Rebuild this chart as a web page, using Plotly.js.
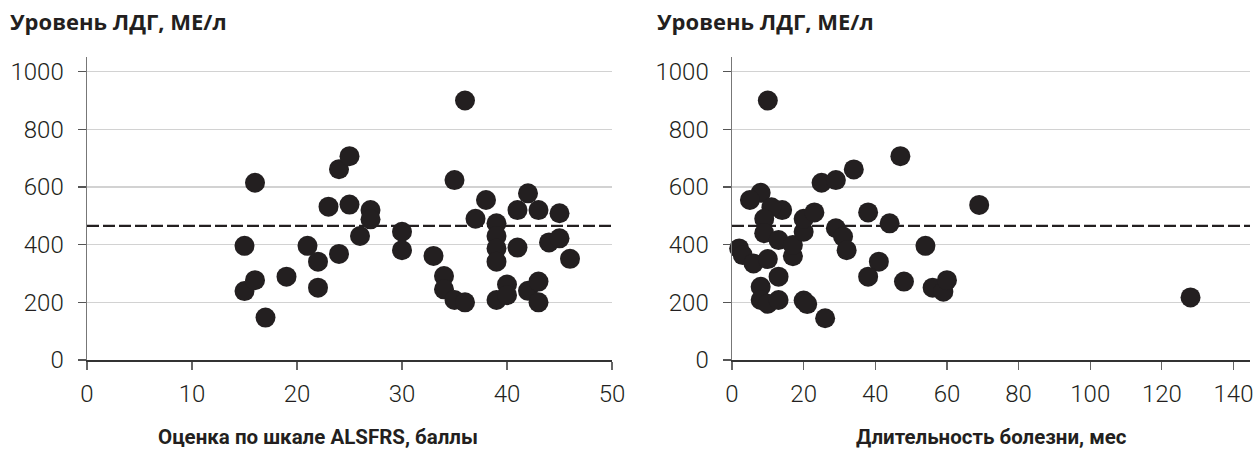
<!DOCTYPE html>
<html><head><meta charset="utf-8">
<script src="https://cdn.plot.ly/plotly-3.0.1.min.js"></script>
<style>html,body{margin:0;padding:0;background:#fff}</style>
</head><body><div id="chart" style="width:1256px;height:452px"></div>
<script>
// Left panel: ALSFRS score vs LDH
const alsfrsScore = [15,15,16,16,17,19,21,22,22,23,24,24,25,25,26,27,27,30,30,33,34,34,35,35,36,36,37,38,39,39,39,39,39,40,40,41,41,42,42,43,43,43,44,45,45,46];
const ldhLeft =     [396,239,615,277,147,289,396,341,251,532,662,368,707,539,430,520,488,445,381,361,291,245,624,208,900,200,490,555,474,430,387,341,208,262,225,520,390,578,240,520,272,200,408,509,422,351];

// Right panel: disease duration vs LDH
const durationMonths = [10,47,34,25,29,8,5,14,11,9,9,13,2,3,6,10,17,17,20,20,23,29,31,32,38,44,41,38,48,54,56,59,60,69,128,8,13,8,10,13,20,21,26];
const ldhRight =       [900,707,661,615,624,580,555,520,530,490,440,416,387,364,335,350,360,399,445,490,512,457,428,381,512,474,341,289,272,396,251,237,277,538,217,254,289,208,195,208,206,194,145];

const refLevel = 465;
const yTicks = [0,200,400,600,800,1000];
const xTicksLeft = [0,10,20,30,40,50];
const xTicksRight = [0,20,40,60,80,100,120,140];
const yTitle = 'Уровень ЛДГ, МЕ/л';
const xTitleLeft = 'Оценка по шкале ALSFRS, баллы';
const xTitleRight = 'Длительность болезни, мес';

const W = 1256, H = 452;
const ink = '#231f20';
const tickFont = {family: 'Roboto', size: 24, color: ink, weight: 300};
const yTitleFont = {family: 'Open Sans', size: 22, color: ink, weight: 'bold'};
const xTitleFont = {family: 'Roboto', size: 20.5, color: ink, weight: 'bold'};

const marker = {size: 20, color: ink, line: {width: 0}};
const traces = [
  {x: alsfrsScore, y: ldhLeft, type: 'scatter', mode: 'markers', marker, xaxis: 'x', yaxis: 'y', cliponaxis: false, hoverinfo: 'x+y'},
  {x: durationMonths, y: ldhRight, type: 'scatter', mode: 'markers', marker, xaxis: 'x2', yaxis: 'y2', cliponaxis: false, hoverinfo: 'x+y'}
];

const yDom = [(H - 360) / H, (H - 57.3) / H];
function xAx(dom, range, ticks, anchor) {
  return {domain: dom, range, tickvals: ticks, ticktext: ticks.map(String), anchor,
    showgrid: false, zeroline: false, showline: true, linecolor: '#333', linewidth: 1.5,
    ticks: 'outside', ticklen: 8, tickwidth: 1.2, tickcolor: '#666', tickfont: tickFont, ticklabelstandoff: 4, fixedrange: true};
}
function yAx(anchor) {
  return {domain: yDom, range: [0, 1050], tickvals: yTicks, ticktext: yTicks.map(String), anchor,
    showgrid: true, gridcolor: '#d2d2d2', gridwidth: 1.2, zeroline: false, showline: true, linecolor: '#777', linewidth: 1.5,
    ticks: 'outside', ticklen: 8, tickwidth: 1.2, tickcolor: '#555', tickfont: tickFont, ticklabelstandoff: 9, fixedrange: true};
}

const dashLine = {color: ink, width: 2.2, dash: '12px,4px'};
const layout = {
  width: W, height: H,
  margin: {l: 0, r: 0, t: 0, b: 0},
  paper_bgcolor: '#fff', plot_bgcolor: '#fff',
  showlegend: false,
  xaxis: xAx([87 / W, 612 / W], [0, 50], xTicksLeft, 'y'),
  yaxis: yAx('x'),
  xaxis2: xAx([732 / W, 1250 / W], [0, 144.6], xTicksRight, 'y2'),
  yaxis2: yAx('x2'),
  shapes: [
    {type: 'line', xref: 'x domain', yref: 'y', x0: 0, x1: 1, y0: refLevel, y1: refLevel, line: dashLine, layer: 'below'},
    {type: 'line', xref: 'x2 domain', yref: 'y2', x0: 0, x1: 1, y0: refLevel, y1: refLevel, line: dashLine, layer: 'below'}
  ],
  annotations: [
    {xref: 'paper', yref: 'paper', x: 8 / W, y: 1 - 21 / H, xanchor: 'left', yanchor: 'middle', text: yTitle, showarrow: false, font: yTitleFont},
    {xref: 'paper', yref: 'paper', x: 655 / W, y: 1 - 21 / H, xanchor: 'left', yanchor: 'middle', text: yTitle, showarrow: false, font: yTitleFont},
    {xref: 'paper', yref: 'paper', x: 318 / W, y: 1 - 437 / H, xanchor: 'center', yanchor: 'middle', text: xTitleLeft, showarrow: false, font: xTitleFont},
    {xref: 'paper', yref: 'paper', x: 991 / W, y: 1 - 437 / H, xanchor: 'center', yanchor: 'middle', text: xTitleRight, showarrow: false, font: xTitleFont}
  ]
};

Plotly.newPlot('chart', traces, layout, {displayModeBar: false, staticPlot: true});
</script>
</body></html>
